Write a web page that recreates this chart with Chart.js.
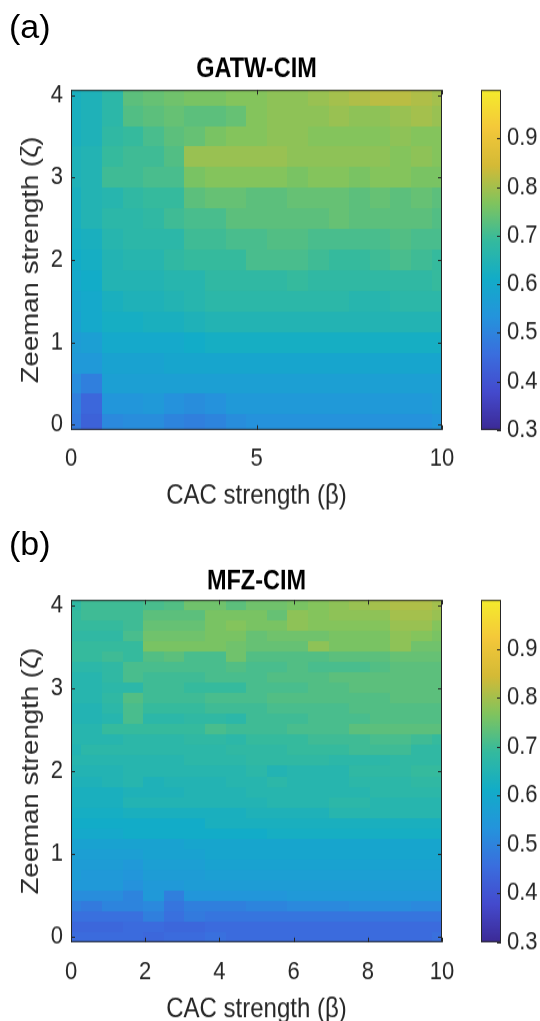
<!DOCTYPE html>
<html>
<head>
<meta charset="utf-8">
<script src="https://cdn.jsdelivr.net/npm/chart.js@4.4.1/dist/chart.umd.min.js"></script>
<style>
  body { margin: 0; background: #fff; }
  #page { position: relative; width: 540px; height: 1021px; overflow: hidden; font-family: "Liberation Sans", Arial, sans-serif; }
  /* the figure is drawn a little taller than wide */
  .sheet { position: absolute; left: 0; width: 540px; transform: scaleY(1.15); transform-origin: 0 0; }
  .panel { position: absolute; left: 9px; font-size: 34px; line-height: 40px; color: #000; }
</style>
</head>
<body>
<div id="page">
  <div class="sheet" style="top:0"><canvas id="chartA" width="540" height="452"></canvas></div>
  <div class="sheet" style="top:510px"><canvas id="chartB" width="540" height="454"></canvas></div>
  <div class="panel" style="top:6px">(a)</div>
  <div class="panel" style="top:523px">(b)</div>
</div>
<script>
// colour limits and ticks
const cLim = [0.3, 1.0];
const cbTicks = [0.3, 0.4, 0.5, 0.6, 0.7, 0.8, 0.9];
const zetaTicks = [0, 1, 2, 3, 4];
const betaTicksA = [0, 5, 10];
const betaTicksB = [0, 2, 4, 6, 8, 10];

// CAC strength samples (columns), same for both maps
const beta = [0, 0.56, 1.11, 1.67, 2.22, 2.78, 3.33, 3.89, 4.44, 5, 5.56, 6.11, 6.67, 7.22, 7.78, 8.33, 8.89, 9.44, 10];

// Zeeman strength samples (rows, top to bottom)
const zetaA = [4, 3.75, 3.5, 3.25, 3, 2.75, 2.5, 2.25, 2, 1.75, 1.5, 1.25, 1, 0.75, 0.5, 0.25, 0];
const zetaB = [4, 3.875, 3.75, 3.625, 3.5, 3.375, 3.25, 3.125, 3, 2.875, 2.75, 2.625, 2.5, 2.375, 2.25, 2.125,
               2, 1.875, 1.75, 1.625, 1.5, 1.375, 1.25, 1.125, 1, 0.875, 0.75, 0.625, 0.5, 0.375, 0.25, 0.125, 0];

// GATW-CIM, one row per zeta in zetaA
const gatw = [
  [0.63,0.64,0.67,0.73,0.74,0.75,0.76,0.76,0.77,0.77,0.78,0.78,0.79,0.80,0.81,0.82,0.82,0.81,0.80],
  [0.63,0.64,0.67,0.72,0.73,0.74,0.73,0.73,0.74,0.77,0.78,0.78,0.78,0.79,0.78,0.78,0.79,0.80,0.79],
  [0.63,0.64,0.68,0.69,0.71,0.73,0.74,0.76,0.77,0.77,0.78,0.78,0.77,0.77,0.77,0.77,0.78,0.77,0.77],
  [0.64,0.65,0.69,0.70,0.70,0.72,0.79,0.79,0.79,0.79,0.79,0.78,0.78,0.78,0.78,0.78,0.77,0.78,0.77],
  [0.64,0.65,0.70,0.70,0.71,0.71,0.76,0.77,0.77,0.77,0.77,0.76,0.77,0.77,0.76,0.77,0.77,0.76,0.76],
  [0.63,0.65,0.66,0.68,0.69,0.69,0.73,0.74,0.74,0.73,0.73,0.74,0.74,0.74,0.73,0.74,0.73,0.74,0.73],
  [0.63,0.65,0.67,0.67,0.68,0.70,0.71,0.71,0.73,0.73,0.73,0.73,0.73,0.74,0.73,0.73,0.73,0.73,0.72],
  [0.62,0.63,0.66,0.67,0.67,0.67,0.70,0.70,0.71,0.71,0.72,0.72,0.71,0.71,0.71,0.71,0.72,0.71,0.71],
  [0.61,0.62,0.65,0.66,0.66,0.68,0.69,0.69,0.69,0.71,0.71,0.71,0.70,0.69,0.69,0.70,0.71,0.70,0.69],
  [0.60,0.61,0.65,0.65,0.65,0.66,0.66,0.68,0.68,0.68,0.68,0.69,0.68,0.68,0.68,0.68,0.68,0.68,0.69],
  [0.59,0.60,0.63,0.64,0.64,0.65,0.66,0.67,0.67,0.67,0.67,0.67,0.67,0.67,0.66,0.66,0.67,0.67,0.67],
  [0.58,0.60,0.62,0.62,0.63,0.63,0.64,0.65,0.65,0.65,0.65,0.65,0.65,0.65,0.65,0.65,0.65,0.65,0.65],
  [0.56,0.57,0.60,0.60,0.60,0.60,0.61,0.62,0.62,0.62,0.62,0.62,0.62,0.62,0.62,0.62,0.62,0.62,0.62],
  [0.55,0.55,0.58,0.58,0.58,0.59,0.59,0.59,0.59,0.59,0.59,0.59,0.59,0.59,0.59,0.59,0.59,0.59,0.59],
  [0.52,0.49,0.57,0.57,0.57,0.57,0.57,0.57,0.57,0.57,0.57,0.57,0.57,0.57,0.57,0.57,0.57,0.57,0.57],
  [0.49,0.44,0.54,0.54,0.55,0.53,0.52,0.53,0.55,0.55,0.55,0.55,0.55,0.55,0.55,0.55,0.55,0.55,0.56],
  [0.48,0.43,0.51,0.52,0.52,0.50,0.49,0.50,0.52,0.53,0.53,0.53,0.53,0.53,0.53,0.53,0.53,0.53,0.54]
];

// MFZ-CIM, one row per zeta in zetaB
const mfz = [
  [0.68,0.70,0.70,0.70,0.71,0.72,0.75,0.75,0.73,0.75,0.75,0.76,0.77,0.78,0.79,0.80,0.81,0.81,0.80],
  [0.69,0.70,0.70,0.70,0.73,0.73,0.73,0.76,0.76,0.76,0.74,0.78,0.77,0.78,0.78,0.78,0.80,0.80,0.79],
  [0.69,0.69,0.69,0.70,0.74,0.74,0.74,0.76,0.77,0.76,0.76,0.78,0.77,0.77,0.77,0.77,0.79,0.79,0.77],
  [0.68,0.68,0.68,0.71,0.75,0.75,0.75,0.76,0.76,0.74,0.75,0.75,0.75,0.76,0.76,0.76,0.78,0.77,0.76],
  [0.69,0.69,0.69,0.69,0.76,0.76,0.76,0.76,0.75,0.74,0.74,0.74,0.78,0.76,0.76,0.76,0.78,0.75,0.75],
  [0.69,0.69,0.70,0.69,0.72,0.73,0.71,0.71,0.75,0.72,0.72,0.72,0.72,0.73,0.73,0.73,0.74,0.74,0.74],
  [0.67,0.67,0.68,0.71,0.71,0.71,0.71,0.71,0.72,0.71,0.71,0.72,0.71,0.71,0.71,0.72,0.73,0.73,0.73],
  [0.66,0.66,0.68,0.71,0.70,0.70,0.70,0.71,0.71,0.71,0.72,0.72,0.72,0.73,0.73,0.73,0.73,0.73,0.73],
  [0.66,0.66,0.67,0.67,0.70,0.70,0.69,0.69,0.69,0.71,0.71,0.71,0.72,0.72,0.73,0.73,0.73,0.73,0.73],
  [0.66,0.66,0.68,0.72,0.70,0.70,0.70,0.71,0.71,0.71,0.72,0.72,0.72,0.72,0.72,0.72,0.73,0.73,0.73],
  [0.65,0.65,0.67,0.71,0.69,0.69,0.69,0.70,0.70,0.70,0.71,0.71,0.71,0.71,0.72,0.72,0.72,0.72,0.72],
  [0.65,0.65,0.66,0.71,0.67,0.67,0.68,0.68,0.67,0.70,0.70,0.70,0.71,0.71,0.71,0.72,0.72,0.72,0.72],
  [0.66,0.66,0.69,0.69,0.69,0.69,0.69,0.71,0.70,0.70,0.70,0.71,0.71,0.71,0.73,0.73,0.73,0.73,0.73],
  [0.66,0.66,0.66,0.67,0.67,0.67,0.68,0.68,0.67,0.69,0.69,0.69,0.70,0.70,0.70,0.71,0.71,0.70,0.69],
  [0.65,0.67,0.67,0.67,0.67,0.67,0.67,0.67,0.68,0.68,0.68,0.69,0.69,0.69,0.70,0.70,0.70,0.68,0.68],
  [0.66,0.66,0.66,0.66,0.66,0.66,0.67,0.67,0.67,0.68,0.68,0.68,0.68,0.67,0.67,0.67,0.68,0.68,0.68],
  [0.65,0.65,0.65,0.66,0.66,0.66,0.66,0.66,0.66,0.67,0.65,0.66,0.66,0.66,0.68,0.68,0.68,0.69,0.69],
  [0.64,0.64,0.65,0.66,0.64,0.65,0.65,0.65,0.66,0.66,0.67,0.66,0.66,0.66,0.67,0.67,0.67,0.68,0.68],
  [0.63,0.63,0.63,0.64,0.64,0.64,0.65,0.65,0.65,0.66,0.66,0.66,0.66,0.66,0.66,0.67,0.67,0.67,0.67],
  [0.63,0.63,0.63,0.65,0.65,0.65,0.65,0.65,0.65,0.65,0.66,0.66,0.66,0.67,0.67,0.66,0.66,0.66,0.66],
  [0.62,0.62,0.62,0.63,0.63,0.63,0.63,0.63,0.63,0.64,0.64,0.64,0.64,0.66,0.66,0.66,0.66,0.66,0.66],
  [0.61,0.61,0.61,0.61,0.61,0.61,0.61,0.63,0.63,0.63,0.63,0.63,0.63,0.63,0.63,0.63,0.63,0.63,0.63],
  [0.60,0.60,0.60,0.61,0.61,0.61,0.61,0.61,0.61,0.61,0.62,0.62,0.62,0.62,0.62,0.62,0.62,0.62,0.62],
  [0.58,0.58,0.58,0.58,0.58,0.58,0.59,0.59,0.59,0.59,0.59,0.59,0.59,0.59,0.59,0.59,0.59,0.59,0.59],
  [0.57,0.57,0.57,0.57,0.58,0.58,0.58,0.59,0.59,0.59,0.59,0.59,0.59,0.59,0.59,0.59,0.59,0.59,0.59],
  [0.56,0.56,0.56,0.55,0.57,0.57,0.57,0.58,0.58,0.58,0.58,0.58,0.58,0.58,0.58,0.58,0.58,0.58,0.58],
  [0.56,0.55,0.55,0.54,0.56,0.56,0.56,0.57,0.57,0.57,0.57,0.57,0.57,0.57,0.57,0.57,0.57,0.57,0.57],
  [0.55,0.55,0.55,0.53,0.55,0.55,0.56,0.56,0.56,0.56,0.56,0.56,0.56,0.56,0.56,0.56,0.56,0.56,0.56],
  [0.52,0.52,0.52,0.50,0.55,0.49,0.54,0.54,0.54,0.54,0.54,0.55,0.55,0.55,0.55,0.55,0.55,0.55,0.55],
  [0.49,0.48,0.50,0.50,0.51,0.47,0.49,0.49,0.49,0.50,0.50,0.51,0.51,0.51,0.52,0.52,0.52,0.51,0.51],
  [0.46,0.46,0.46,0.46,0.49,0.46,0.48,0.47,0.47,0.47,0.47,0.47,0.47,0.47,0.47,0.47,0.47,0.47,0.47],
  [0.44,0.44,0.44,0.45,0.45,0.44,0.44,0.45,0.45,0.45,0.45,0.45,0.45,0.45,0.45,0.45,0.45,0.45,0.45],
  [0.45,0.45,0.45,0.45,0.44,0.45,0.45,0.46,0.45,0.45,0.45,0.45,0.45,0.45,0.45,0.45,0.45,0.45,0.46]
];

// parula colormap, 10 samples, toned down a little as printed
const parula = [
  [60, 42, 150], [68, 74, 205], [58, 110, 222], [36, 148, 220], [18, 172, 200],
  [52, 186, 158], [128, 196, 94], [212, 186, 54], [244, 200, 58], [244, 236, 44]
];

function colorFor(v) {
  let t = (v - cLim[0]) / (cLim[1] - cLim[0]);
  t = Math.min(1, Math.max(0, t)) * (parula.length - 1);
  const i = Math.min(parula.length - 2, Math.floor(t));
  const f = t - i;
  const c = parula[i].map((ch, k) => Math.round(ch + (parula[i + 1][k] - ch) * f));
  return `rgb(${c[0]},${c[1]},${c[2]})`;
}

// cell borders halfway between neighbouring samples
function cellEdges(vals) {
  const n = vals.length, e = [vals[0] - (vals[1] - vals[0]) / 2];
  for (let i = 1; i < n; i++) e.push((vals[i - 1] + vals[i]) / 2);
  e.push(vals[n - 1] + (vals[n - 1] - vals[n - 2]) / 2);
  return e;
}

const ink = '#262626';

const heatmap = {
  id: 'heatmap',
  beforeDatasetsDraw(chart) {
    const {ctx, chartArea: a, scales: {x, y}} = chart;
    const ds = chart.data.datasets[0];
    ctx.save();
    ctx.beginPath();
    ctx.rect(a.left, a.top, a.right - a.left, a.bottom - a.top);
    ctx.clip();
    ds.data.forEach(p => {
      const x0 = Math.round(x.getPixelForValue(ds.xEdges[p.i]));
      const x1 = Math.round(x.getPixelForValue(ds.xEdges[p.i + 1]));
      const y0 = Math.round(y.getPixelForValue(ds.yEdges[p.j]));
      const y1 = Math.round(y.getPixelForValue(ds.yEdges[p.j + 1]));
      ctx.fillStyle = colorFor(p.v);
      ctx.fillRect(Math.min(x0, x1), Math.min(y0, y1), Math.abs(x1 - x0), Math.abs(y1 - y0));
    });
    ctx.restore();
  },
  afterDraw(chart) {
    const {ctx, chartArea: a, scales: {x, y, cb}} = chart;
    const line = (x0, y0, x1, y1) => { ctx.beginPath(); ctx.moveTo(x0, y0); ctx.lineTo(x1, y1); ctx.stroke(); };
    ctx.save();
    ctx.strokeStyle = ink;
    ctx.lineWidth = 1;
    // axes box with inward ticks on all four sides
    ctx.strokeRect(a.left + 0.5, a.top + 0.5, a.right - a.left - 1, a.bottom - a.top - 1);
    x.ticks.forEach(t => {
      const px = Math.round(x.getPixelForValue(t.value)) + 0.5;
      line(px, a.bottom, px, a.bottom - 4);
      line(px, a.top, px, a.top + 4);
    });
    y.ticks.forEach(t => {
      const py = Math.round(y.getPixelForValue(t.value)) + 0.5;
      line(a.left, py, a.left + 4, py);
      line(a.right, py, a.right - 4, py);
    });
    // colorbar
    const bx = cb.left + 39, bw = 20;
    const g = ctx.createLinearGradient(0, cb.getPixelForValue(cLim[0]), 0, cb.getPixelForValue(cLim[1]));
    parula.forEach((c, k) => g.addColorStop(k / (parula.length - 1), `rgb(${c.join(',')})`));
    ctx.fillStyle = g;
    ctx.fillRect(bx, cb.top, bw, cb.bottom - cb.top);
    ctx.strokeRect(bx + 0.5, cb.top + 0.5, bw - 1, cb.bottom - cb.top - 1);
    cb.ticks.forEach(t => {
      const py = Math.round(cb.getPixelForValue(t.value)) + 0.5;
      line(bx + bw, py, bx + bw - 4, py);
    });
    ctx.restore();
  }
};

Chart.defaults.font.family = '"Liberation Sans", Arial, sans-serif';
Chart.defaults.color = ink;

function makeMap(id, o) {
  const cells = [];
  o.rows.forEach((row, j) => row.forEach((v, i) => cells.push({x: beta[i], y: o.zeta[j], v, i, j})));
  const fixTicks = list => s => { s.ticks = list.map(value => ({value})); };
  return new Chart(document.getElementById(id), {
    type: 'scatter',
    data: {
      datasets: [{data: cells, pointRadius: 0, xEdges: cellEdges(beta), yEdges: cellEdges(o.zeta)}]
    },
    options: {
      responsive: false,
      animation: false,
      devicePixelRatio: 1,
      events: [],
      layout: {padding: 0},
      plugins: {
        legend: {display: false},
        tooltip: {enabled: false},
        title: {
          display: true, text: o.title, color: '#000', fullSize: false,
          font: {size: 23.5, weight: 'bold'},
          padding: {top: 43, bottom: o.titleGap}
        }
      },
      scales: {
        x: {
          type: 'linear', position: 'bottom', min: 0, max: 10,
          afterBuildTicks: fixTicks(o.betaTicks),
          grid: {display: false, drawTicks: false}, border: {display: false},
          ticks: {font: {size: 22}, padding: o.xTickPad, maxRotation: 0, autoSkip: false},
          title: {display: true, text: 'CAC strength (β)', font: {size: 24}, padding: {top: 0, bottom: 2}},
          afterFit: s => { s.height = o.xHeight; }
        },
        y: {
          type: 'linear', position: 'left', min: -0.0625, max: 4.0625,
          afterBuildTicks: fixTicks(zetaTicks),
          grid: {display: false, drawTicks: false}, border: {display: false},
          ticks: {font: {size: 22}, padding: 8},
          title: {display: true, text: 'Zeeman strength (ζ)', font: {size: 24}, padding: {top: 17, bottom: 0}},
          afterFit: s => { s.width = 71; }
        },
        cb: {
          type: 'linear', position: 'right', min: cLim[0], max: cLim[1],
          afterBuildTicks: fixTicks(cbTicks),
          grid: {display: false, drawTicks: false}, border: {display: false},
          ticks: {font: {size: 22}, padding: 65, callback: v => v.toFixed(1)},
          afterFit: s => { s.width = 98; }
        }
      }
    },
    plugins: [heatmap]
  });
}

makeMap('chartA', {title: 'GATW-CIM', zeta: zetaA, rows: gatw, betaTicks: betaTicksA, titleGap: 4, xHeight: 74, xTickPad: 12});
makeMap('chartB', {title: 'MFZ-CIM', zeta: zetaB, rows: mfz, betaTicks: betaTicksB, titleGap: 2, xHeight: 75, xTickPad: 13});
</script>
</body>
</html>
